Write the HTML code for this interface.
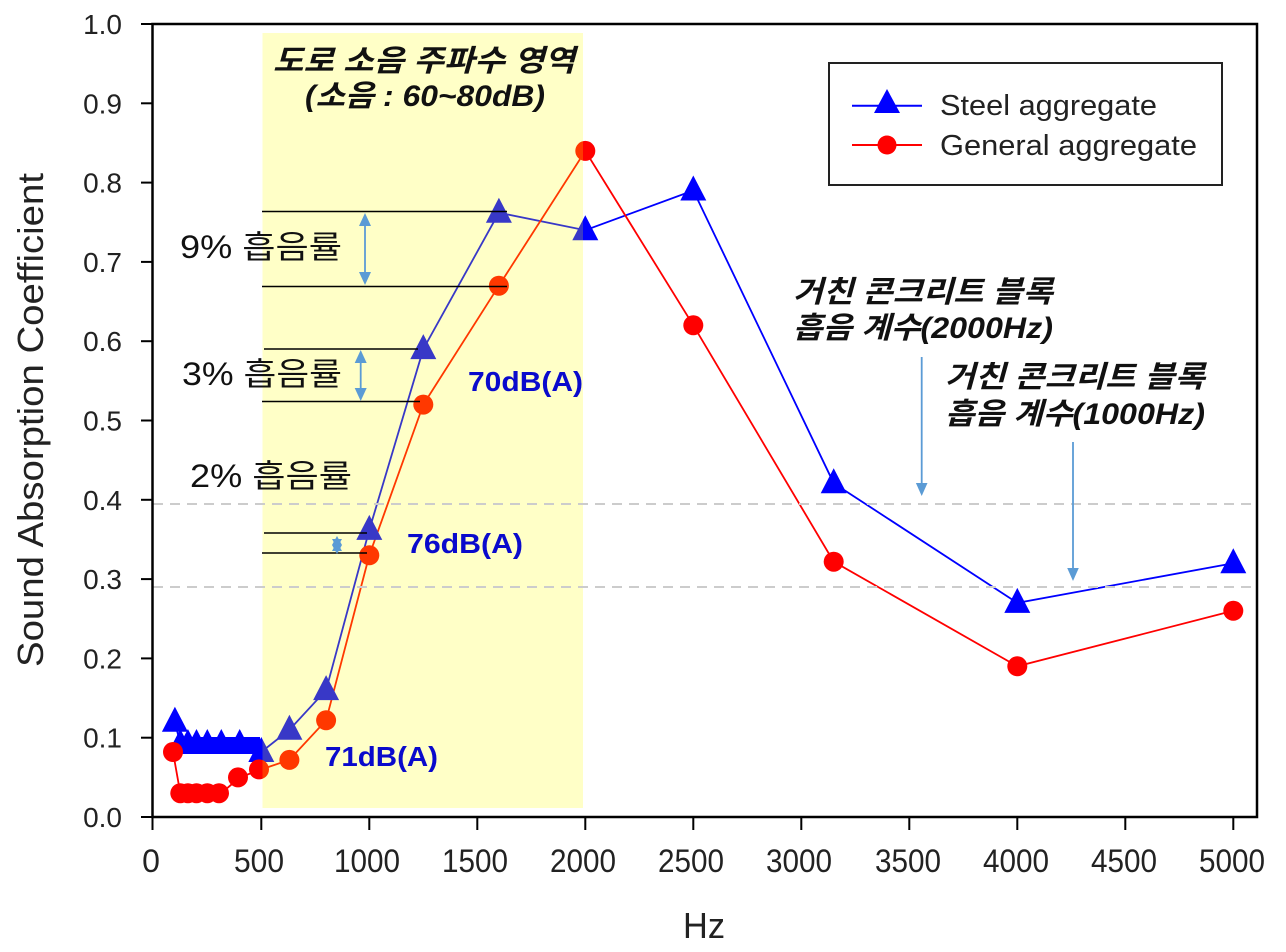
<!DOCTYPE html>
<html>
<head>
<meta charset="utf-8">
<style>
  html,body{margin:0;padding:0;background:#fff;}
  svg{display:block;}
  .lat{font-family:"Liberation Sans",Arial,sans-serif;}
  .kr{font-family:"Liberation Sans","Noto Sans CJK KR","NanumGothic",sans-serif;}
</style>
</head>
<body>
<svg width="1286" height="952" viewBox="0 0 1286 952" xmlns="http://www.w3.org/2000/svg">
  <rect x="0" y="0" width="1286" height="952" fill="#fff"/>

  <!-- Series lines -->
  <polyline fill="none" stroke="#0000FF" stroke-width="1.8"
    points="174.9,721.8 180.3,744 187.9,744 196.5,744 207.3,744 221.3,744 239.7,744 261.3,752 289.4,729.8 326.1,690.1 369.3,529.9 423.3,349.1 498.9,212.7 585.3,230.2 693.3,190.5 833.7,483.2 1017.3,602.9 1233.3,563.2"/>
  <polyline fill="none" stroke="#FF0000" stroke-width="1.8"
    points="173,752 180.3,793.2 187.9,793.2 196.5,793.2 207.3,793.2 221.3,793.2 239.7,777.4 261.3,769.4 289.4,759.9 326.1,720.3 369.3,555.3 423.3,404.6 498.9,285.7 585.3,150.9 693.3,325.3 833.7,561.7 1017.3,666.3 1233.3,610.8"/>

  <!-- Blue triangle markers -->
  <g fill="#0000FF">
    <rect x="176" y="737" width="84" height="17"/>
    <path d="M174.9,706.8 L187.9,731.8 L161.9,731.8 Z"/>
    <path d="M180.3,729 L193.3,754 L167.3,754 Z"/>
    <path d="M187.9,729 L200.9,754 L174.9,754 Z"/>
    <path d="M196.5,729 L209.5,754 L183.5,754 Z"/>
    <path d="M207.3,729 L220.3,754 L194.3,754 Z"/>
    <path d="M221.3,729 L234.3,754 L208.3,754 Z"/>
    <path d="M239.7,729 L252.7,754 L226.7,754 Z"/>
    <path d="M261.3,737 L274.3,762 L248.3,762 Z"/>
    <path d="M289.4,714.8 L302.4,739.8 L276.4,739.8 Z"/>
    <path d="M326.1,675.1 L339.1,700.1 L313.1,700.1 Z"/>
    <path d="M369.3,514.9 L382.3,539.9 L356.3,539.9 Z"/>
    <path d="M423.3,334.1 L436.3,359.1 L410.3,359.1 Z"/>
    <path d="M498.9,197.7 L511.9,222.7 L485.9,222.7 Z"/>
    <path d="M585.3,215.2 L598.3,240.2 L572.3,240.2 Z"/>
    <path d="M693.3,175.5 L706.3,200.5 L680.3,200.5 Z"/>
    <path d="M833.7,468.2 L846.7,493.2 L820.7,493.2 Z"/>
    <path d="M1017.3,587.9 L1030.3,612.9 L1004.3,612.9 Z"/>
    <path d="M1233.3,548.2 L1246.3,573.2 L1220.3,573.2 Z"/>
  </g>
  <!-- Red circle markers -->
  <g fill="#FF0000">
    <circle cx="173" cy="752" r="10"/>
    <circle cx="180.3" cy="793.2" r="10"/>
    <circle cx="187.9" cy="793.2" r="10"/>
    <circle cx="196.5" cy="793.2" r="10"/>
    <circle cx="207.3" cy="793.2" r="10"/>
    <circle cx="219" cy="793.2" r="10"/>
    <circle cx="238" cy="777.4" r="10"/>
    <circle cx="259" cy="769.4" r="10"/>
    <circle cx="289.4" cy="759.9" r="10"/>
    <circle cx="326.1" cy="720.3" r="10"/>
    <circle cx="369.3" cy="555.3" r="10"/>
    <circle cx="423.3" cy="404.6" r="10"/>
    <circle cx="498.9" cy="285.7" r="10"/>
    <circle cx="585.3" cy="150.9" r="10"/>
    <circle cx="693.3" cy="325.3" r="10"/>
    <circle cx="833.7" cy="561.7" r="10"/>
    <circle cx="1017.3" cy="666.3" r="10"/>
    <circle cx="1233.3" cy="610.8" r="10"/>
  </g>

  <!-- Yellow translucent region -->
  <rect x="262.5" y="33" width="320.5" height="775" fill="#FFFF00" fill-opacity="0.22"/>

  <!-- Grey dashed reference lines -->
  <line x1="153" y1="504" x2="1256" y2="504" stroke="#CCCCCC" stroke-width="2" stroke-dasharray="10,7"/>
  <line x1="153" y1="587" x2="1256" y2="587" stroke="#CCCCCC" stroke-width="2" stroke-dasharray="10,7"/>

  <!-- Axes frame -->
  <rect x="152.5" y="24" width="1104.5" height="793" fill="none" stroke="#000" stroke-width="2.5"/>

  <!-- Y ticks -->
  <g stroke="#000" stroke-width="2">
    <line x1="141" y1="24" x2="152" y2="24"/>
    <line x1="141" y1="103.3" x2="152" y2="103.3"/>
    <line x1="141" y1="182.6" x2="152" y2="182.6"/>
    <line x1="141" y1="261.9" x2="152" y2="261.9"/>
    <line x1="141" y1="341.2" x2="152" y2="341.2"/>
    <line x1="141" y1="420.5" x2="152" y2="420.5"/>
    <line x1="141" y1="499.8" x2="152" y2="499.8"/>
    <line x1="141" y1="579.1" x2="152" y2="579.1"/>
    <line x1="141" y1="658.4" x2="152" y2="658.4"/>
    <line x1="141" y1="737.7" x2="152" y2="737.7"/>
    <line x1="141" y1="817" x2="152" y2="817"/>
  </g>
  <g class="lat" font-size="28" fill="#222" text-anchor="end">
    <text x="122" y="34">1.0</text>
    <text x="122" y="113.3">0.9</text>
    <text x="122" y="192.6">0.8</text>
    <text x="122" y="271.9">0.7</text>
    <text x="122" y="351.2">0.6</text>
    <text x="122" y="430.5">0.5</text>
    <text x="122" y="509.8">0.4</text>
    <text x="122" y="589.1">0.3</text>
    <text x="122" y="668.4">0.2</text>
    <text x="122" y="747.7">0.1</text>
    <text x="122" y="827">0.0</text>
  </g>

  <!-- X ticks -->
  <g stroke="#000" stroke-width="2">
    <line x1="152.5" y1="817" x2="152.5" y2="830"/>
    <line x1="261.3" y1="817" x2="261.3" y2="830"/>
    <line x1="369.3" y1="817" x2="369.3" y2="830"/>
    <line x1="477.3" y1="817" x2="477.3" y2="830"/>
    <line x1="585.3" y1="817" x2="585.3" y2="830"/>
    <line x1="693.3" y1="817" x2="693.3" y2="830"/>
    <line x1="801.3" y1="817" x2="801.3" y2="830"/>
    <line x1="909.3" y1="817" x2="909.3" y2="830"/>
    <line x1="1017.3" y1="817" x2="1017.3" y2="830"/>
    <line x1="1125.3" y1="817" x2="1125.3" y2="830"/>
    <line x1="1233.3" y1="817" x2="1233.3" y2="830"/>
  </g>
  <g class="lat" font-size="32" fill="#222" text-anchor="middle">
    <text x="151" y="872">0</text>
    <text x="259" y="872" textLength="50" lengthAdjust="spacingAndGlyphs">500</text>
    <text x="367" y="872" textLength="66" lengthAdjust="spacingAndGlyphs">1000</text>
    <text x="475" y="872" textLength="66" lengthAdjust="spacingAndGlyphs">1500</text>
    <text x="583" y="872" textLength="66" lengthAdjust="spacingAndGlyphs">2000</text>
    <text x="691" y="872" textLength="66" lengthAdjust="spacingAndGlyphs">2500</text>
    <text x="799" y="872" textLength="66" lengthAdjust="spacingAndGlyphs">3000</text>
    <text x="908" y="872" textLength="66" lengthAdjust="spacingAndGlyphs">3500</text>
    <text x="1016" y="872" textLength="66" lengthAdjust="spacingAndGlyphs">4000</text>
    <text x="1124" y="872" textLength="66" lengthAdjust="spacingAndGlyphs">4500</text>
    <text x="1232" y="872" textLength="66" lengthAdjust="spacingAndGlyphs">5000</text>
  </g>

  <!-- Axis titles -->
  <text class="lat" x="704" y="938" font-size="36" fill="#222" text-anchor="middle" textLength="42" lengthAdjust="spacingAndGlyphs">Hz</text>
  <text class="lat" transform="translate(43,420) rotate(-90)" x="0" y="0" font-size="36" fill="#222" text-anchor="middle" textLength="494" lengthAdjust="spacingAndGlyphs">Sound Absorption Coefficient</text>

  <!-- Legend -->
  <rect x="829" y="63" width="393" height="122" fill="#fff" stroke="#222" stroke-width="2"/>
  <line x1="852" y1="105.7" x2="922" y2="105.7" stroke="#0000FF" stroke-width="2"/>
  <path d="M887,89 L900,113 L874,113 Z" fill="#0000FF"/>
  <line x1="852" y1="145" x2="922" y2="145" stroke="#FF0000" stroke-width="2"/>
  <circle cx="887" cy="145" r="9.5" fill="#FF0000"/>
  <g class="lat" font-size="29" fill="#222">
    <text x="940" y="115" textLength="217" lengthAdjust="spacingAndGlyphs">Steel aggregate</text>
    <text x="940" y="155" textLength="257" lengthAdjust="spacingAndGlyphs">General aggregate</text>
  </g>

  <!-- Black reference lines -->
  <g stroke="#000" stroke-width="1.5">
    <line x1="262" y1="211.5" x2="507" y2="211.5"/>
    <line x1="262" y1="286.5" x2="507" y2="286.5"/>
    <line x1="264" y1="349" x2="418" y2="349"/>
    <line x1="262" y1="401.5" x2="420" y2="401.5"/>
    <line x1="264" y1="533" x2="367" y2="533"/>
    <line x1="262" y1="553" x2="367" y2="553"/>
  </g>

  <!-- Blue double arrows -->
  <g stroke="#5B9BD5" stroke-width="1.8" fill="#5B9BD5">
    <line x1="365" y1="222" x2="365" y2="276"/>
    <line x1="360.7" y1="360" x2="360.7" y2="391"/>
    <line x1="921.7" y1="357" x2="921.7" y2="485"/>
    <line x1="1073" y1="442" x2="1073" y2="570"/>
  </g>
  <g fill="#5B9BD5">
    <path d="M365,213 L371,226 L359,226 Z"/>
    <path d="M365,285 L371,272 L359,272 Z"/>
    <path d="M360.7,350 L366.7,363 L354.7,363 Z"/>
    <path d="M360.7,401 L366.7,388 L354.7,388 Z"/>
    <path d="M337,536 L342,545 L332,545 Z"/>
    <path d="M337,554 L342,545 L332,545 Z"/>
    <path d="M332,539 L342,539 L337,548 Z"/>
    <path d="M332,551 L342,551 L337,542 Z"/>
    <path d="M921.7,496 L927.5,483 L915.9,483 Z"/>
    <path d="M1073,581 L1078.8,568 L1067.2,568 Z"/>
  </g>

  <!-- Korean annotations (bold italic) -->
  <g class="kr" font-weight="bold" font-style="italic" fill="#111" font-size="30">
    <text x="273" y="71" textLength="302" lengthAdjust="spacingAndGlyphs">도로 소음 주파수 영역</text>
    <text x="305" y="106" textLength="240" lengthAdjust="spacingAndGlyphs">(소음 : 60~80dB)</text>
    <text x="793" y="302" textLength="260" lengthAdjust="spacingAndGlyphs">거친 콘크리트 블록</text>
    <text x="793" y="338" textLength="260" lengthAdjust="spacingAndGlyphs">흡음 계수(2000Hz)</text>
    <text x="945" y="387" textLength="260" lengthAdjust="spacingAndGlyphs">거친 콘크리트 블록</text>
    <text x="945" y="424" textLength="260" lengthAdjust="spacingAndGlyphs">흡음 계수(1000Hz)</text>
  </g>

  <!-- Percent labels -->
  <g class="kr" fill="#111" font-size="32">
    <text x="180" y="258" textLength="162" lengthAdjust="spacingAndGlyphs">9% 흡음률</text>
    <text x="182" y="385" textLength="160" lengthAdjust="spacingAndGlyphs">3% 흡음률</text>
    <text x="190" y="487" textLength="162" lengthAdjust="spacingAndGlyphs">2% 흡음률</text>
  </g>

  <!-- dB labels -->
  <g class="lat" font-weight="bold" fill="#0A0ACC" font-size="28">
    <text x="468" y="391" textLength="115" lengthAdjust="spacingAndGlyphs">70dB(A)</text>
    <text x="407" y="553" textLength="116" lengthAdjust="spacingAndGlyphs">76dB(A)</text>
    <text x="325" y="766" textLength="113" lengthAdjust="spacingAndGlyphs">71dB(A)</text>
  </g>
</svg>
</body>
</html>
